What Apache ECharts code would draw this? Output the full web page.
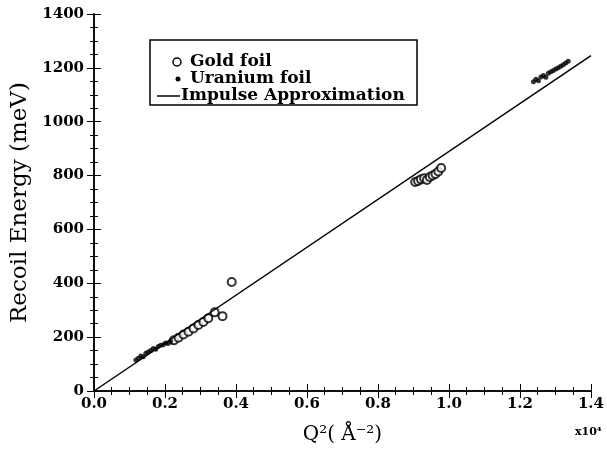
<!DOCTYPE html>
<html>
<head>
<meta charset="utf-8">
<script src="https://cdn.jsdelivr.net/npm/echarts@6/dist/echarts.min.js"></script>
<style>
  html, body { margin: 0; padding: 0; background: #fff; }
  #chart { width: 607px; height: 450px; }
</style>
</head>
<body>
<div id="chart"></div>
<script>
// Q^2 in units of 10^4 A^-2, recoil energy in meV
var goldQ2 = [0.225, 0.238, 0.252, 0.266, 0.28, 0.294, 0.308, 0.322, 0.34, 0.362, 0.388,
              0.905, 0.913, 0.921, 0.93, 0.938, 0.946, 0.954, 0.962, 0.97, 0.978];
var goldE = [188, 198, 210, 220, 232, 245, 256, 270, 292, 278, 405,
             776, 780, 786, 790, 784, 795, 800, 806, 815, 828];

var uranQ2 = [0.118, 0.125, 0.132, 0.139, 0.146, 0.153, 0.16, 0.167, 0.174, 0.181, 0.188, 0.195, 0.202, 0.209, 0.216,
              1.238, 1.245, 1.252, 1.259, 1.266, 1.273, 1.28, 1.287, 1.294, 1.301, 1.308, 1.315, 1.322, 1.329, 1.336];
var uranE = [115, 122, 130, 127, 140, 145, 150, 158, 155, 165, 170, 172, 178, 176, 185,
             1148, 1158, 1152, 1166, 1172, 1165, 1180, 1186, 1190, 1196, 1200, 1206, 1212, 1218, 1225];

var impulseQ2 = [0, 1.4];
var impulseE = [0, 1245];

var xTicks = ['0.0', '0.2', '0.4', '0.6', '0.8', '1.0', '1.2', '1.4'];
var legendNames = ['Gold foil', 'Uranium foil', 'Impulse Approximation'];

function pairs(xs, ys) {
    var rs = [];
    for (var i = 0; i < xs.length; i++) rs.push([xs[i], ys[i]]);
    return rs;
}

var font = 'DejaVu Serif';
var legendText = { fontFamily: font, fontWeight: 'bold', fontSize: 17, fill: '#000', textVerticalAlign: 'middle' };
var chart = echarts.init(document.getElementById('chart'));

// 图例框（手工画）
var legendGraphics = [
    { type: 'rect', shape: { x: 150, y: 40, width: 267, height: 65 }, style: { fill: '#fff', stroke: '#000', lineWidth: 1.5 }, z: 10 },
    { type: 'circle', shape: { cx: 177, cy: 62, r: 4 }, style: { fill: '#fff', stroke: '#000', lineWidth: 1.5 }, z: 11 },
    { type: 'text', x: 190, y: 62, style: Object.assign({ text: legendNames[0] }, legendText), z: 11 },
    { type: 'circle', shape: { cx: 178, cy: 79, r: 2.5 }, style: { fill: '#000' }, z: 11 },
    { type: 'text', x: 190, y: 79, style: Object.assign({ text: legendNames[1] }, legendText), z: 11 },
    { type: 'line', shape: { x1: 157, y1: 96, x2: 180, y2: 96 }, style: { stroke: '#000', lineWidth: 1.5 }, z: 11 },
    { type: 'text', x: 181, y: 96, style: Object.assign({ text: legendNames[2] }, legendText), z: 11 },
    {
        type: 'text', left: 575, top: 427,
        style: { text: 'x10⁴', fontFamily: font, fontWeight: 'bold', fontSize: 11, fill: '#000' }
    }
];

chart.setOption({
    backgroundColor: '#fff',
    animation: false,
    grid: { left: 94, right: 15, top: 14, bottom: 56 },
    xAxis: [{
        type: 'value',
        min: 0, max: 1.4, interval: 0.2,
        name: 'Q²( Å⁻²)',
        nameLocation: 'middle',
        nameGap: 34,
        nameTextStyle: { fontFamily: font, fontSize: 20, color: '#000' },
        axisLine: { lineStyle: { color: '#000', width: 1.5 } },
        axisTick: { inside: true, length: 7, lineStyle: { color: '#000' } },
        minorTick: { show: true, splitNumber: 4, length: 4, lineStyle: { color: '#000' } },
        splitLine: { show: false },
        axisLabel: {
            fontFamily: font, fontWeight: 'bold', fontSize: 15, color: '#000', margin: 6,
            formatter: function (v) { return xTicks[Math.round(v / 0.2)]; }
        }
    }, {
        type: 'value', position: 'top',
        min: 0, max: 1.4, interval: 0.2,
        axisLine: { show: true, lineStyle: { color: '#000', width: 1.5 } },
        axisTick: { inside: true, length: 7, lineStyle: { color: '#000' } },
        minorTick: { show: true, splitNumber: 4, length: 4, lineStyle: { color: '#000' } },
        splitLine: { show: false },
        axisLabel: { show: false }
    }],
    yAxis: [{
        type: 'value',
        min: 0, max: 1400, interval: 200,
        name: 'Recoil Energy (meV)',
        nameLocation: 'middle',
        nameGap: 38,
        nameTextStyle: { fontFamily: font, fontSize: 23, color: '#000' },
        axisLine: { show: true, lineStyle: { color: '#000', width: 1.5 } },
        axisTick: { inside: true, length: 7, lineStyle: { color: '#000' } },
        minorTick: { show: true, splitNumber: 4, length: 4, lineStyle: { color: '#000' } },
        splitLine: { show: false },
        axisLabel: {
            fontFamily: font, fontWeight: 'bold', fontSize: 15, color: '#000', margin: 10,
            formatter: function (v) { return String(v); }
        }
    }, {
        type: 'value', position: 'right',
        min: 0, max: 1400, interval: 200,
        axisLine: { show: true, lineStyle: { color: '#000', width: 1.5 } },
        axisTick: { inside: true, length: 7, lineStyle: { color: '#000' } },
        minorTick: { show: true, splitNumber: 4, length: 4, lineStyle: { color: '#000' } },
        splitLine: { show: false },
        axisLabel: { show: false }
    }],
    graphic: legendGraphics,
    series: [{
        name: legendNames[0],
        type: 'scatter',
        symbol: 'emptyCircle',
        symbolSize: 8,
        itemStyle: { color: '#000', borderColor: '#000', borderWidth: 1.5 },
        data: pairs(goldQ2, goldE)
    }, {
        name: legendNames[1],
        type: 'scatter',
        symbol: 'circle',
        symbolSize: 5,
        itemStyle: { color: '#000' },
        data: pairs(uranQ2, uranE)
    }, {
        name: legendNames[2],
        type: 'line',
        showSymbol: false,
        symbol: 'none',
        lineStyle: { color: '#000', width: 1.5 },
        itemStyle: { color: '#000' },
        data: pairs(impulseQ2, impulseE)
    }]
});
</script>
</body>
</html>
